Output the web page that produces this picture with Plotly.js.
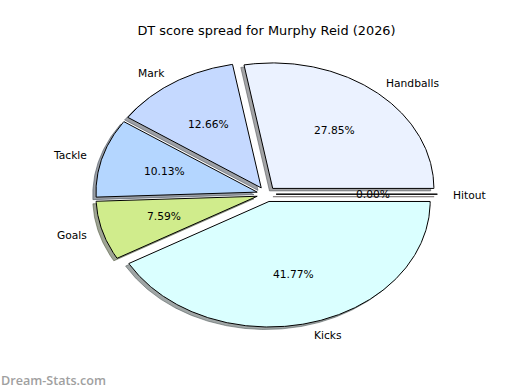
<!DOCTYPE html>
<html><head><meta charset="utf-8">
<script src="https://cdn.plot.ly/plotly-3.0.1.min.js"></script>
<style>html,body{margin:0;padding:0;background:#fff}#chart{width:520px;height:390px}</style>
</head><body><div id="chart"></div>
<script>
const labels = ['Hitout', 'Handballs', 'Mark', 'Tackle', 'Goals', 'Kicks'];
const values = [0, 22, 10, 8, 6, 33];
const colors = ['#FFE8E8', '#EBF2FF', '#C5D9FF', '#B4D6FF', '#D0EC8C', '#DAFFFF'];
const explode = 0.06;
const chartTitle = 'DT score spread for Murphy Reid (2026)';
const watermark = 'Dream-Stats.com';

const FONT = 'DejaVu Sans, Verdana, sans-serif';
const total = values.reduce((a, b) => a + b, 0);
const rad = Math.PI / 180;
const shadowTraces = [], wedgeTraces = [], annotations = [];

function shadowColor(hex) {
  const r = parseInt(hex.slice(1, 3), 16), g = parseInt(hex.slice(3, 5), 16), b = parseInt(hex.slice(5, 7), 16);
  return 'rgba(' + Math.round(0.3 * r) + ',' + Math.round(0.3 * g) + ',' + Math.round(0.3 * b) + ',0.5)';
}

let acc = 0;
values.forEach((v, i) => {
  const frac = v / total;
  const t1 = acc * 360, t2 = (acc + frac) * 360;
  acc += frac;
  const mid = (t1 + t2) / 2 * rad;
  const ox = explode * Math.cos(mid), oy = explode * Math.sin(mid);
  const xs = [ox], ys = [oy];
  const n = Math.max(1, Math.ceil((t2 - t1) / 0.5));
  for (let k = 0; k <= n; k++) {
    const a = (t1 + (t2 - t1) * k / n) * rad;
    xs.push(ox + Math.cos(a)); ys.push(oy + Math.sin(a));
  }
  xs.push(ox); ys.push(oy);
  const sc = shadowColor(colors[i]);
  shadowTraces.push({
    type: 'scatter', mode: 'lines', x: xs.map(x => x - 0.02), y: ys.map(y => y - 0.02),
    fill: 'toself', fillcolor: sc, line: {color: sc, width: 1}, hoverinfo: 'skip'
  });
  wedgeTraces.push({
    type: 'scatter', mode: 'lines', x: xs, y: ys, name: labels[i],
    fill: 'toself', fillcolor: colors[i], line: {color: '#000', width: 1}, hoverinfo: 'skip'
  });
  const lx = ox + 1.1 * Math.cos(mid), ly = oy + 1.1 * Math.sin(mid);
  annotations.push({
    x: lx, y: ly, xref: 'x', yref: 'y', text: labels[i], showarrow: false,
    xanchor: lx > 0 ? 'left' : 'right', yanchor: 'middle', borderpad: 0,
    xshift: lx > 0 ? -1 : 1, yshift: -1,
    font: {family: FONT, size: 10.7, color: '#000'}
  });
  const px = ox + 0.6 * Math.cos(mid), py = oy + 0.6 * Math.sin(mid);
  annotations.push({
    x: px, y: py, xref: 'x', yref: 'y', text: (100 * frac).toFixed(2) + '%', showarrow: false,
    xanchor: 'center', yanchor: 'middle', borderpad: 0,
    font: {family: FONT, size: 10.7, color: '#000'}
  });
});

annotations.push({
  x: -65 / 403, y: -(380 - 350) / 310, xref: 'paper', yref: 'paper', text: watermark, showarrow: false,
  xanchor: 'left', yanchor: 'middle', borderpad: 0,
  font: {family: 'Open Sans, DejaVu Sans, sans-serif', size: 12.6, color: '#a0a0a0', weight: 600}
});

const layout = {
  width: 520, height: 390,
  margin: {l: 65, r: 52, t: 40, b: 40, pad: 0},
  paper_bgcolor: '#fff', plot_bgcolor: '#fff',
  showlegend: false, hovermode: false,
  title: {text: chartTitle, font: {family: FONT, size: 12.9, color: '#000'},
          xref: 'paper', x: 0.5, xanchor: 'center', yref: 'container', y: 1 - 30 / 390, yanchor: 'middle'},
  xaxis: {range: [-1.25, 1.25], visible: false, fixedrange: true},
  yaxis: {range: [-1.2414, 1.2287], visible: false, fixedrange: true},
  annotations: annotations
};

Plotly.newPlot('chart', shadowTraces.concat(wedgeTraces), layout, {staticPlot: true, displayModeBar: false});
</script>
</body></html>
